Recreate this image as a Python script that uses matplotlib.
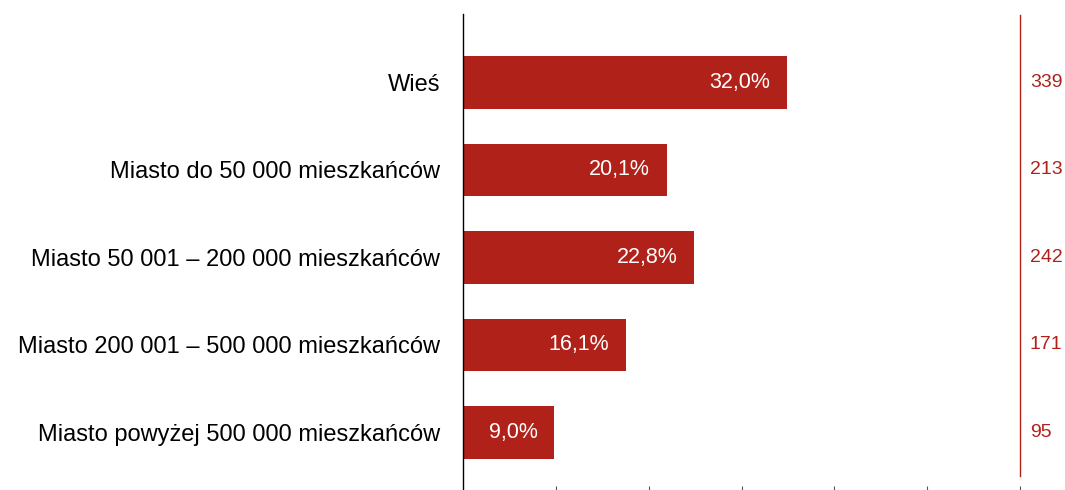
import numpy as np
import matplotlib.pyplot as plt

plt.rcParams['font.family'] = ['Liberation Sans', 'DejaVu Sans']

categories = ['Wieś', 'Miasto do 50 000 mieszkańców', 'Miasto 50 001 – 200 000 mieszkańców',
              'Miasto 200 001 – 500 000 mieszkańców', 'Miasto powyżej 500 000 mieszkańców']
shares = [32.0, 20.1, 22.8, 16.1, 9.0]
counts = [339, 213, 242, 171, 95]

RED = '#B0211A'

fig = plt.figure(figsize=(10.65, 4.9), dpi=100)
ax = fig.add_axes([463 / 1065, 0, (1020 - 463) / 1065, 476 / 490])

y = np.arange(len(categories))
ax.barh(y, shares, height=0.6, color=RED)

for yi, v in zip(y, shares):
    ax.annotate(f'{v:.1f}'.replace('.', ',') + '%', (v, yi), xytext=(-12, 0),
                textcoords='offset points', ha='right', va='center',
                color='white', fontsize=15.5)

for yi, c in zip(y, counts):
    ax.annotate(str(c), (1, yi), xycoords=('axes fraction', 'data'), xytext=(7, 0),
                textcoords='offset points', ha='left', va='center',
                color=RED, fontsize=14, annotation_clip=False)

ax.set_xlim(0, 55)
ax.set_ylim(4.66, -0.78)
ax.set_yticks(y)
ax.set_yticklabels(categories, fontsize=17)
ax.tick_params(axis='y', length=0, pad=16.5)
ax.set_xticks(np.linspace(0, 55, 7)[1:])
ax.set_xticklabels([])
ax.tick_params(axis='x', direction='in', length=3, color='#555555')

for s in ['top', 'right', 'bottom']:
    ax.spines[s].set_visible(False)
ax.spines['left'].set_color('black')
ax.spines['left'].set_linewidth(1)

ax.plot([1, 1], [0.029, 0.998], transform=ax.transAxes, color=RED,
        linewidth=1, clip_on=False)

fig.savefig('out.png', dpi=100)
